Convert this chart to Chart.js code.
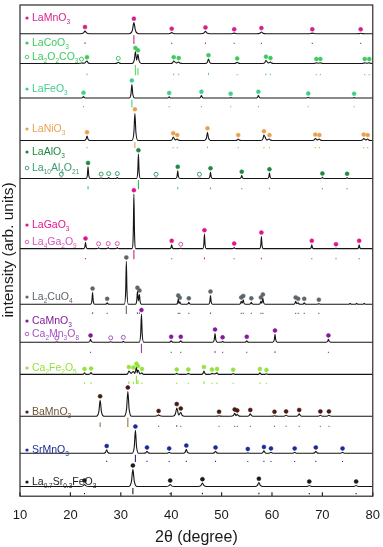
<!DOCTYPE html>
<html>
<head>
<meta charset="utf-8">
<script src="https://cdn.jsdelivr.net/npm/chart.js@4.4.1/dist/chart.umd.min.js"></script>
<style>
  html, body { margin: 0; padding: 0; background: #fff; }
  #wrap { width: 383px; height: 547px; }
</style>
</head>
<body>
<div id="wrap"><canvas id="xrdChart"></canvas></div>
<script>
// sample names, "_n" is written as subscript
const sampleNames = ['LaMnO_3', 'LaCoO_3', 'LaFeO_3', 'LaNiO_3', 'LaAlO_3', 'LaGaO_3', 'La_2CuO_4', 'CaMnO_3', 'Ca_2Fe_2O_5', 'BaMnO_3', 'SrMnO_3', 'La_0.7Sr_0.3FeO_3'];
const secondNames = [null, 'La_2O_2CO_3', null, null, 'La_10Al_4O_21', 'La_4Ga_2O_9', null, 'Ca_2Mn_3O_8', null, null, null, null];
const xTicks = [10, 20, 30, 40, 50, 60, 70, 80];

// peak position (2θ), peak height, phase (1 = main phase, 2 = second phase, 0 = unmarked)
const posLaMnO3 = [22.9, 32.6, 40.1, 46.8, 52.5, 57.9, 68.0, 77.6];
const intLaMnO3 = [2.8, 11.5, 1.2, 2.5, 0.6, 1.8, 0.6, 0.5];
const phLaMnO3 = [1, 1, 1, 1, 1, 1, 1, 1];

const posLaCoO3 = [22.2, 23.3, 29.5, 32.9, 33.4, 40.5, 41.5, 47.4, 53.1, 58.8, 59.7, 68.8, 69.6, 78.4, 79.3];
const intLaCoO3 = [0.5, 2.5, 1.2, 12, 9.5, 2.5, 1.5, 4.5, 1.2, 3, 1.5, 0.6, 0.6, 0.6, 0.6];
const phLaCoO3 = [2, 1, 2, 1, 1, 1, 1, 1, 1, 1, 1, 1, 1, 1, 1];

const posLaFeO3 = [22.6, 32.2, 39.6, 46.0, 51.8, 57.3, 67.2, 76.3];
const intLaFeO3 = [1.5, 14, 1.2, 2.5, 0.5, 2.5, 0.8, 0.5];
const phLaFeO3 = [1, 1, 1, 1, 1, 1, 1, 1];

const posLaNiO3 = [23.3, 32.8, 40.4, 41.2, 47.2, 53.3, 58.4, 59.5, 68.6, 69.4, 78.2, 79.0];
const intLaNiO3 = [4.5, 28, 3.5, 1.5, 8.5, 1.5, 5.5, 1.5, 2, 1.5, 2, 1.5];
const phLaNiO3 = [1, 1, 1, 1, 1, 1, 1, 1, 1, 1, 1, 1];

const posLaAlO3 = [18.2, 23.5, 26.1, 27.6, 29.3, 33.5, 37.0, 41.3, 45.6, 47.8, 54.0, 59.5, 70.0, 74.9];
const intLaAlO3 = [0.3, 12, 0.5, 1, 1, 25, 0.3, 8, 0.3, 6.5, 3, 5.5, 1.2, 0.8];
const phLaAlO3 = [2, 1, 2, 2, 2, 1, 2, 1, 2, 1, 1, 1, 1, 1];

const posLaGaO3 = [23.0, 25.6, 27.5, 29.3, 32.6, 40.1, 41.9, 46.6, 52.5, 57.9, 67.9, 72.7, 77.3];
const intLaGaO3 = [6.5, 1, 1.2, 1.2, 56, 4, 0.5, 15, 1.2, 12.5, 4, 0.6, 4];
const phLaGaO3 = [1, 2, 2, 2, 1, 1, 2, 1, 1, 1, 1, 1, 1];

const posLa2CuO4 = [24.4, 27.3, 31.1, 33.3, 33.7, 41.4, 41.7, 43.5, 47.8, 53.9, 54.3, 55.9, 57.8, 58.2, 64.7, 65.2, 66.4, 69.3, 75.5, 76.8, 78.3];
const intLa2CuO4 = [12, 1.5, 44, 13, 10, 5, 2.5, 2, 9, 3, 4.5, 2, 3, 6, 3, 1.5, 1.5, 0.6, 1, 1, 0.8];
const phLa2CuO4 = [1, 1, 1, 1, 1, 1, 1, 1, 1, 1, 1, 1, 1, 1, 1, 1, 1, 1, 0, 0, 0];

const posCaMnO3 = [17.3, 24.0, 28.0, 30.5, 34.1, 40.0, 41.9, 48.7, 50.2, 55.0, 60.6, 71.2];
const intCaMnO3 = [0.4, 3, 0.5, 1, 29, 1.5, 1.5, 9, 1, 1.5, 8, 3];
const phCaMnO3 = [2, 1, 2, 2, 1, 1, 1, 1, 1, 1, 1, 1];

const posCa2Fe2O5 = [22.8, 24.1, 31.6, 32.5, 33.1, 33.4, 34.2, 41.1, 43.4, 46.5, 48.1, 49.1, 52.3, 57.6, 58.9];
const intCa2Fe2O5 = [1.5, 2, 3.5, 3, 7, 4.5, 1.5, 1, 1, 3.5, 1, 1.5, 0.8, 1.5, 0.6];
const phCa2Fe2O5 = [1, 1, 1, 1, 1, 1, 1, 1, 1, 1, 1, 1, 1, 1, 1];

const posBaMnO3 = [25.9, 31.4, 37.5, 41.1, 41.9, 49.5, 52.6, 53.1, 55.7, 60.5, 62.8, 65.4, 69.6, 71.3];
const intBaMnO3 = [16.5, 25.5, 1.5, 8.5, 4, 0.6, 3, 2, 2.5, 0.6, 1, 2.5, 1, 1];
const phBaMnO3 = [1, 1, 1, 1, 1, 1, 1, 1, 1, 1, 1, 1, 1, 1];

const posSrMnO3 = [27.2, 32.9, 35.2, 39.6, 43.0, 48.8, 55.2, 58.4, 59.8, 64.5, 68.7, 74.0];
const intSrMnO3 = [3.5, 23.5, 2, 1, 4, 2, 0.5, 2.5, 1, 1, 2, 1];
const phSrMnO3 = [1, 1, 1, 1, 1, 1, 1, 1, 1, 1, 1, 1];

const posLSF = [22.8, 32.4, 39.8, 46.2, 57.4, 67.4, 76.7];
const intLSF = [2, 17.5, 2, 3.5, 4, 1, 1];
const phLSF = [1, 1, 1, 1, 1, 1, 1];

const samples = [
  { pos: posLaMnO3, int: intLaMnO3, ph: phLaMnO3 },
  { pos: posLaCoO3, int: intLaCoO3, ph: phLaCoO3 },
  { pos: posLaFeO3, int: intLaFeO3, ph: phLaFeO3 },
  { pos: posLaNiO3, int: intLaNiO3, ph: phLaNiO3 },
  { pos: posLaAlO3, int: intLaAlO3, ph: phLaAlO3 },
  { pos: posLaGaO3, int: intLaGaO3, ph: phLaGaO3 },
  { pos: posLa2CuO4, int: intLa2CuO4, ph: phLa2CuO4 },
  { pos: posCaMnO3, int: intCaMnO3, ph: phCaMnO3 },
  { pos: posCa2Fe2O5, int: intCa2Fe2O5, ph: phCa2Fe2O5 },
  { pos: posBaMnO3, int: intBaMnO3, ph: phBaMnO3 },
  { pos: posSrMnO3, int: intSrMnO3, ph: phSrMnO3 },
  { pos: posLSF, int: intLSF, ph: phLSF }
];

// layout (pixels from top of the page) and styles
const AREA_BOTTOM = 507;
const MARK_GAP = 4;
const baseTop = [32.5, 63, 98.5, 142, 181, 253, 310, 349, 382, 425, 463, 497];
const refBottom = [43, 75, 108, 150, 192, 264, 320, 360, 392, 436, 472, 505];
const labelTop = [18, 43, 89, 129, 152, 225, 297, 321, 368, 412, 450, 482];
const label2Top = [null, 57, null, null, 168, 242, null, 334, null, null, null, null];
const halfWidth = [0.3, 0.22, 0.18, 0.2, 0.13, 0.12, 0.13, 0.15, 0.18, 0.25, 0.22, 0.28];
const markColor = ['#d81d8c', '#3ccb5f', '#3fcf8c', '#eaa14e', '#20893f', '#e0158d', '#5c666c', '#86199a', '#93e33b', '#4a1a10', '#1d2b98', '#1a1a1a'];
const labelColor = ['#d81d8c', '#3ccb5f', '#3fcf8c', '#eaa14e', '#20893f', '#e0158d', '#5c666c', '#86199a', '#93e33b', '#6e5430', '#1d2b98', '#1a1a1a'];
const refColor = ['#d81d8c', '#5cd86a', '#3fcf8c', '#eaa14e', '#3bbf5c', '#e0158d', '#5c666c', '#a03ab0', '#93e33b', '#8f7540', '#1d2b98', '#1a1a1a'];
const secondColor = [null, '#3ccb5f', null, null, '#3a9c6c', '#d457b8', null, '#a653c4', null, null, null, null];
const FONT = '"Liberation Sans", Arial, sans-serif';

function buildTrace(i) {
  const s = samples[i];
  const b = AREA_BOTTOM - baseTop[i];
  const w = halfWidth[i];
  const pts = [{ x: 10, y: b }];
  const push = (x, y) => { if (x > pts[pts.length - 1].x) pts.push({ x: x, y: y }); };
  s.pos.forEach((p, k) => {
    const h = s.int[k];
    const prev = s.pos[k - 1];
    const next = s.pos[k + 1];
    if (prev === undefined || p - prev > 6 * w) {
      push(p - 3 * w, b);
      push(p - w, b + 0.3 * h);
    } else {
      push((p + prev) / 2, b + 0.35 * Math.min(h, s.int[k - 1]));
    }
    push(p, b + h);
    if (next === undefined || next - p > 6 * w) {
      push(p + w, b + 0.3 * h);
      push(p + 3 * w, b);
    }
  });
  push(80, b);
  return pts;
}

function buildRefs(i) {
  const s = samples[i];
  const bottom = AREA_BOTTOM - refBottom[i];
  const full = refBottom[i] - baseTop[i] - 1.5;
  const maxH = Math.max(...s.int.filter((h, k) => s.ph[k] === 1));
  const pts = [];
  s.pos.forEach((p, k) => {
    if (s.ph[k] !== 1) return;
    const len = 1.2 + (full - 1.2) * Math.pow(s.int[k] / maxH, 2);
    pts.push({ x: p, y: bottom }, { x: p, y: bottom + len }, { x: p, y: null });
  });
  return pts;
}

function buildMarks(i, phase) {
  const s = samples[i];
  const b = AREA_BOTTOM - baseTop[i];
  const pts = [];
  s.pos.forEach((p, k) => {
    if (s.ph[k] === phase) pts.push({ x: p, y: b + s.int[k] + MARK_GAP });
  });
  return pts;
}

const datasets = [];
samples.forEach((s, i) => {
  datasets.push({
    data: buildRefs(i), borderColor: refColor[i], borderWidth: 1.1,
    pointRadius: 0, tension: 0, spanGaps: false, fill: false
  });
  datasets.push({
    data: buildTrace(i), borderColor: '#151515', borderWidth: 1.1,
    pointRadius: 0, cubicInterpolationMode: 'monotone', fill: false
  });
  datasets.push({
    data: buildMarks(i, 1), showLine: false, pointRadius: 2,
    pointBackgroundColor: markColor[i], pointBorderColor: markColor[i], pointBorderWidth: 0.5
  });
  if (secondNames[i]) {
    datasets.push({
      data: buildMarks(i, 2), showLine: false, pointRadius: 2,
      pointBackgroundColor: '#fff', pointBorderColor: secondColor[i], pointBorderWidth: 1
    });
  }
});

function drawFormula(ctx, str, x, y, size, color) {
  const parts = str.split(/_([\d.]+)/);
  ctx.fillStyle = color;
  ctx.textAlign = 'left';
  ctx.textBaseline = 'middle';
  parts.forEach((t, j) => {
    if (!t) return;
    const sub = j % 2 === 1;
    ctx.font = (sub ? size * 0.62 : size) + 'px ' + FONT;
    ctx.fillText(t, x, y + (sub ? size * 0.38 : 0));
    x += ctx.measureText(t).width;
  });
}

const decorations = {
  id: 'decorations',
  afterDraw(chart) {
    const ctx = chart.ctx;
    const a = chart.chartArea;
    const xs = chart.scales.x;
    ctx.save();
    // frame and inward ticks
    ctx.strokeStyle = '#2a2a2a';
    ctx.lineWidth = 1.2;
    ctx.strokeRect(a.left, a.top, a.right - a.left, a.bottom - a.top);
    xTicks.forEach(v => {
      const px = xs.getPixelForValue(v);
      ctx.beginPath();
      ctx.moveTo(px, a.bottom);
      ctx.lineTo(px, a.bottom - 4);
      ctx.stroke();
    });
    // sample labels
    sampleNames.forEach((name, i) => {
      ctx.fillStyle = markColor[i];
      ctx.beginPath();
      ctx.arc(27, labelTop[i], 1.6, 0, Math.PI * 2);
      ctx.fill();
      drawFormula(ctx, name, 32, labelTop[i], 10.5, labelColor[i]);
      if (secondNames[i]) {
        ctx.strokeStyle = secondColor[i];
        ctx.lineWidth = 0.9;
        ctx.beginPath();
        ctx.arc(27, label2Top[i], 1.8, 0, Math.PI * 2);
        ctx.stroke();
        drawFormula(ctx, secondNames[i], 32, label2Top[i], 10.5, secondColor[i]);
      }
    });
    // y axis title
    ctx.translate(9, 250);
    ctx.rotate(-Math.PI / 2);
    ctx.fillStyle = '#1a1a1a';
    ctx.font = '15.5px ' + FONT;
    ctx.textAlign = 'center';
    ctx.textBaseline = 'middle';
    ctx.fillText('intensity (arb. units)', 0, 0);
    ctx.restore();
  }
};

new Chart(document.getElementById('xrdChart').getContext('2d'), {
  type: 'line',
  data: { datasets: datasets },
  options: {
    responsive: true,
    maintainAspectRatio: false,
    animation: false,
    layout: { padding: { left: 20, right: 7, top: 3, bottom: 0 } },
    plugins: { legend: { display: false }, tooltip: { enabled: false } },
    scales: {
      x: {
        type: 'linear', min: 10, max: 80,
        grid: { display: false },
        border: { display: false },
        ticks: { stepSize: 10, padding: 3, color: '#1a1a1a', font: { size: 13, family: FONT } },
        title: { display: true, text: '2θ (degree)', color: '#1a1a1a', font: { size: 16, family: FONT }, padding: { top: 2, bottom: 0 } }
      },
      y: { display: false, min: 0, max: 504 }
    }
  },
  plugins: [decorations]
});
</script>
</body>
</html>
